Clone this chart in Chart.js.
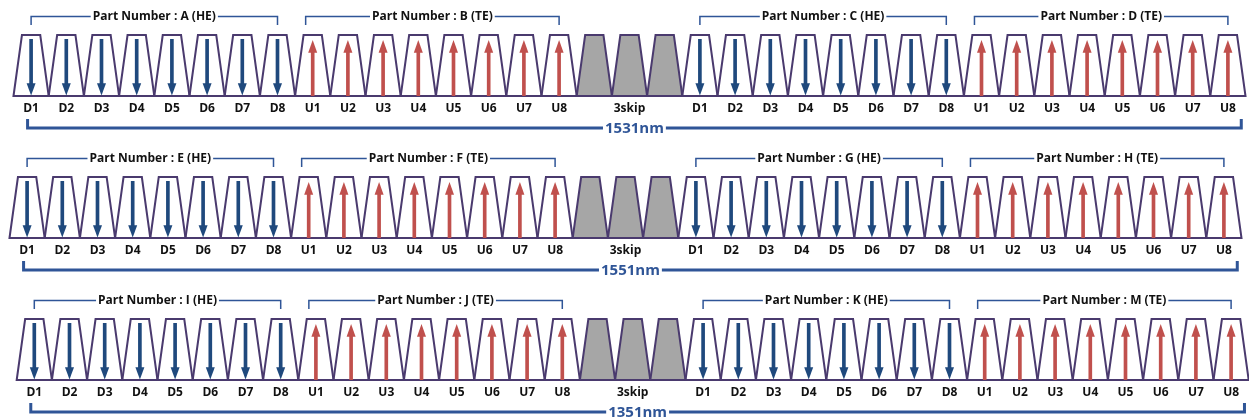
<!DOCTYPE html>
<html><head><meta charset="utf-8">
<script src="https://cdn.jsdelivr.net/npm/chart.js@4.4.1/dist/chart.umd.min.js"></script>
<style>
html,body{margin:0;padding:0;background:#fff;overflow:hidden;width:1249px;height:419px}
.row{position:absolute;left:0;width:1249px;height:142px}
</style></head><body>
<div class="row" style="top:0px"><canvas id="c0"></canvas></div>
<div class="row" style="top:142px"><canvas id="c1"></canvas></div>
<div class="row" style="top:284px"><canvas id="c2"></canvas></div>
<script>
// ---- data ----
const slotTypes = ['D','D','D','D','D','D','D','D','U','U','U','U','U','U','U','U','S','S','S',
                   'D','D','D','D','D','D','D','D','U','U','U','U','U','U','U','U'];
const slotLabels = ['D1','D2','D3','D4','D5','D6','D7','D8','U1','U2','U3','U4','U5','U6','U7','U8','','3skip','',
                    'D1','D2','D3','D4','D5','D6','D7','D8','U1','U2','U3','U4','U5','U6','U7','U8'];
const rowWavelengths = ['1531nm','1551nm','1351nm'];
const rowParts = [
  ['A (HE)','B (TE)','C (HE)','D (TE)'],
  ['E (HE)','F (TE)','G (HE)','H (TE)'],
  ['I (HE)','J (TE)','K (HE)','M (TE)']
];
const groupRanges = [[0,7],[7.8,15],[19,26],[26.8,34]];
const spanRange = [-0.1,34.38];
const downShaft = [0.2,0.93];
const upShaft = [0,0.72];

// ---- styles / layout ----
const rowLeft = [13.5, 9.5, 16.7];
const pitch = 35.2;
const W = 1249;
const FONT = "'Open Sans', 'Noto Sans', sans-serif";
const C_STROKE = '#4a3a6e', C_SKIP = '#a6a6a6', C_DOWN = '#1f497d', C_UP = '#c0504d', C_BRK = '#2f5597';

function makePlugin(row){
  return {
    id:'diagram'+row,
    beforeDatasetsDraw(chart){
      const {ctx, scales:{x,y}} = chart;
      const yT = y.getPixelForValue(1), yB = y.getPixelForValue(0);
      ctx.save();
      ctx.lineWidth = 2; ctx.strokeStyle = C_STROKE; ctx.lineJoin = 'miter';
      slotTypes.forEach((t,i)=>{
        const l = x.getPixelForValue(i-0.5), r = x.getPixelForValue(i+0.5);
        const tl = x.getPixelForValue(i-0.26), tr = x.getPixelForValue(i+0.26);
        ctx.beginPath();
        ctx.moveTo(l,yB); ctx.lineTo(tl,yT); ctx.lineTo(tr,yT); ctx.lineTo(r,yB); ctx.closePath();
        if(t==='S'){ ctx.fillStyle = C_SKIP; ctx.fill(); }
        ctx.stroke();
      });
      ctx.restore();
    },
    afterDatasetsDraw(chart){
      const {ctx, scales:{x,y}} = chart;
      ctx.save();
      slotTypes.forEach((t,i)=>{
        const cx = x.getPixelForValue(i);
        if(t==='D'){
          const b = y.getPixelForValue(0.21), tip = y.getPixelForValue(0.01);
          ctx.fillStyle = C_DOWN;
          ctx.beginPath(); ctx.moveTo(cx-4.5,b); ctx.lineTo(cx+4.5,b); ctx.lineTo(cx,tip); ctx.closePath(); ctx.fill();
        } else if(t==='U'){
          const b = y.getPixelForValue(0.71), tip = y.getPixelForValue(0.92);
          ctx.fillStyle = C_UP;
          ctx.beginPath(); ctx.moveTo(cx-4.5,b); ctx.lineTo(cx+4.5,b); ctx.lineTo(cx,tip); ctx.closePath(); ctx.fill();
        }
      });
      ctx.restore();
    },
    afterDraw(chart){
      const {ctx, scales:{x,y}} = chart;
      const yT = y.getPixelForValue(1), yB = y.getPixelForValue(0);
      ctx.save();
      // group brackets
      ctx.font = "bold 12px " + FONT;
      ctx.textAlign = 'center'; ctx.textBaseline = 'middle';
      groupRanges.forEach((g,k)=>{
        const x0 = x.getPixelForValue(g[0]), x1 = x.getPixelForValue(g[1]);
        const ly = yT - 18.5;
        ctx.strokeStyle = C_BRK; ctx.lineWidth = 1.5;
        ctx.beginPath(); ctx.moveTo(x0, yT-10); ctx.lineTo(x0, ly); ctx.lineTo(x1, ly); ctx.lineTo(x1, yT-10); ctx.stroke();
        const txt = 'Part Number : ' + rowParts[row][k];
        const tw = ctx.measureText(txt).width;
        const cx = (x0+x1)/2;
        ctx.fillStyle = '#fff'; ctx.fillRect(cx-tw/2-2, ly-4, tw+4, 8);
        ctx.fillStyle = '#111'; ctx.fillText(txt, cx, ly);
      });
      // span bracket
      const s0 = x.getPixelForValue(spanRange[0]), s1 = x.getPixelForValue(spanRange[1]);
      const by = yB + 32;
      ctx.strokeStyle = C_BRK; ctx.lineWidth = 3; ctx.lineCap = 'butt'; ctx.lineJoin = 'miter';
      ctx.beginPath(); ctx.moveTo(s0, by-9); ctx.lineTo(s0, by); ctx.lineTo(s1, by); ctx.lineTo(s1, by-9); ctx.stroke();
      ctx.font = "bold 15px " + FONT;
      const wt = rowWavelengths[row];
      const tw = ctx.measureText(wt).width;
      const cx = (s0+s1)/2;
      ctx.fillStyle = '#fff'; ctx.fillRect(cx-tw/2-2, by-5, tw+4, 10);
      ctx.fillStyle = C_BRK; ctx.fillText(wt, cx, by+0.5);
      ctx.restore();
    }
  };
}

for(let row=0; row<3; row++){
  const left = rowLeft[row];
  const right = W - left - pitch*slotTypes.length;
  new Chart(document.getElementById('c'+row), {
    type:'bar',
    data:{
      labels: slotLabels,
      datasets:[{
        data: slotTypes.map(t => t==='D' ? downShaft : (t==='U' ? upShaft : null)),
        backgroundColor: slotTypes.map(t => t==='D' ? C_DOWN : C_UP),
        borderWidth:0,
        barThickness:3
      }]
    },
    options:{
      responsive:true, maintainAspectRatio:false, animation:false,
      layout:{padding:{left:left, right:right, top:35, bottom:0}},
      plugins:{legend:{display:false}, tooltip:{enabled:false}},
      scales:{
        x:{
          type:'category', offset:true,
          grid:{display:false, drawTicks:false}, border:{display:false},
          ticks:{autoSkip:false, maxRotation:0, padding:5, color:'#111',
                 font:{family:FONT, size:12, weight:'bold'}},
          afterFit(s){ s.height = 46; }
        },
        y:{display:false, min:0, max:1}
      }
    },
    plugins:[makePlugin(row)]
  });
}
</script>
</body></html>
